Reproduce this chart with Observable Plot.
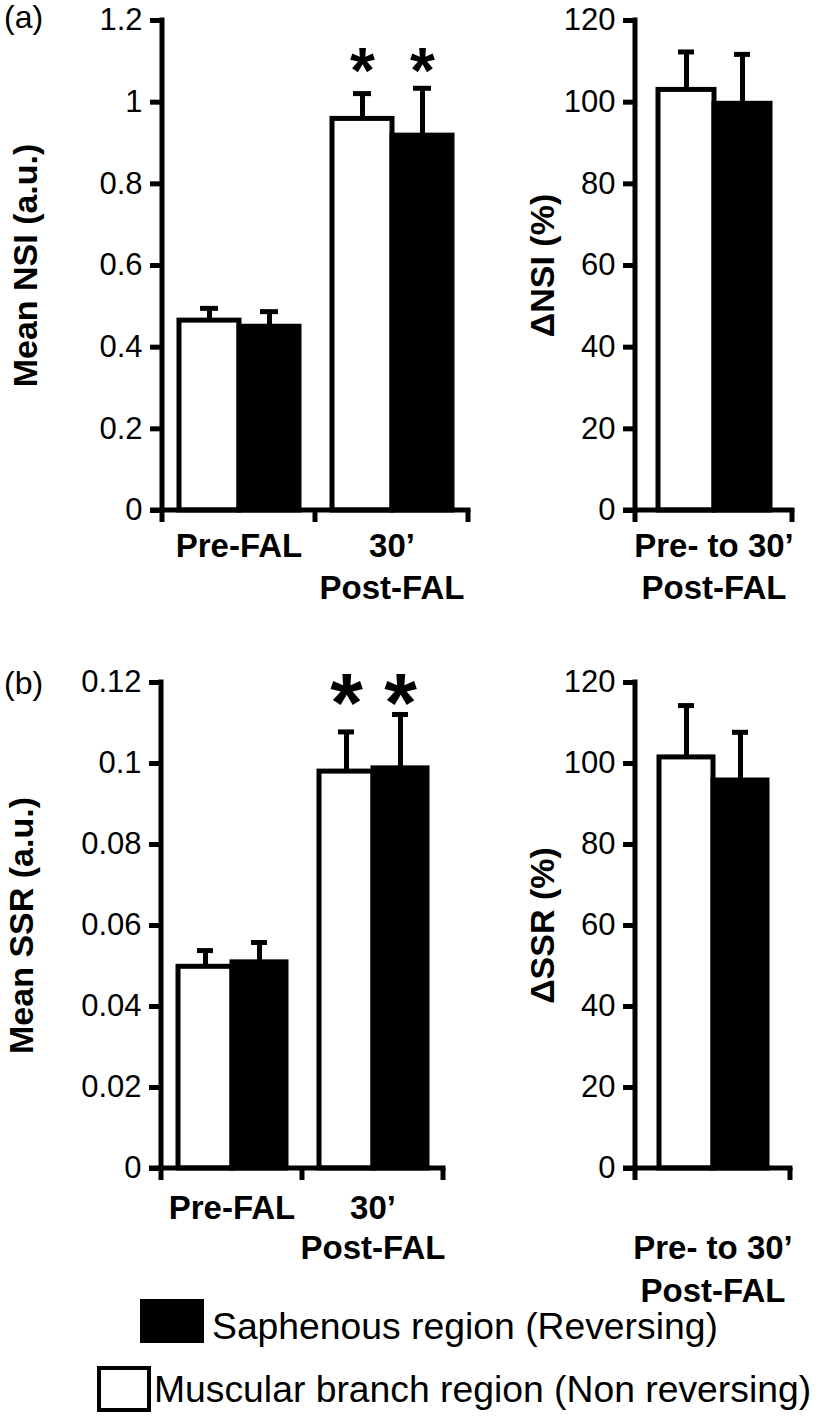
<!DOCTYPE html>
<html><head><meta charset="utf-8">
<script src="https://cdn.jsdelivr.net/npm/d3@7"></script>
<script src="https://cdn.jsdelivr.net/npm/@observablehq/plot@0.6"></script>
<style>
body{margin:0;background:#fff;}
#root{position:relative;width:819px;height:1417px;background:#fff;font-family:"Liberation Sans",Arial,sans-serif;overflow:hidden}
.panel{position:absolute}
.lg{position:absolute;display:flex;align-items:center;font-size:37.3px;color:#000;white-space:nowrap;line-height:1}
.sw{box-sizing:border-box;display:inline-block}
</style></head><body><div id="root"></div>
<script>
// ---- data ----
const seriesKeys = ["Muscular branch region (Non reversing)", "Saphenous region (Reversing)"];
const seriesFills = ["white", "black"];
const legendOrder = ["Saphenous region (Reversing)", "Muscular branch region (Non reversing)"];

const groupsTime = ["Pre-FAL", "30’\nPost-FAL"];
const groupsDelta = ["Pre- to 30’\nPost-FAL"];

// Panel (a) left: Mean NSI (a.u.)
const nsiMuscular = [0.465, 0.959];
const nsiMuscularErr = [0.030, 0.062];
const nsiSaphenous = [0.450, 0.918];
const nsiSaphenousErr = [0.037, 0.116];
const nsiSignificant = [false, true];

// Panel (a) right: ΔNSI (%)
const dNsiMuscular = [103.0];
const dNsiMuscularErr = [9.3];
const dNsiSaphenous = [99.6];
const dNsiSaphenousErr = [12.1];

// Panel (b) left: Mean SSR (a.u.)
const ssrMuscular = [0.0498, 0.0980];
const ssrMuscularErr = [0.0040, 0.0098];
const ssrSaphenous = [0.0509, 0.0988];
const ssrSaphenousErr = [0.0049, 0.0133];
const ssrSignificant = [false, true];

// Panel (b) right: ΔSSR (%)
const dSsrMuscular = [101.5];
const dSsrMuscularErr = [12.8];
const dSsrSaphenous = [95.8];
const dSsrSaphenousErr = [11.9];

const ticksNSI = [0, 0.2, 0.4, 0.6, 0.8, 1, 1.2];
const ticksSSR = [0, 0.02, 0.04, 0.06, 0.08, 0.1, 0.12];
const ticksPct = [0, 20, 40, 60, 80, 100, 120];

function rowsFrom(groups, mv, me, sv, se, sig) {
  const rows = [];
  groups.forEach((g, i) => {
    rows.push({group: g, series: seriesKeys[0], value: mv[i], err: me[i], sig: sig ? sig[i] : false});
    rows.push({group: g, series: seriesKeys[1], value: sv[i], err: se[i], sig: sig ? sig[i] : false});
  });
  return rows;
}

const root = document.getElementById("root");
const FONT = "'Liberation Sans', Arial, sans-serif";

function panel(cfg) {
  const {rows, groups, yDomain, yTicks, yTitle} = cfg;
  const chart = Plot.plot({
    width: cfg.width, height: cfg.height,
    marginLeft: cfg.mL, marginRight: cfg.mR, marginTop: cfg.mT, marginBottom: cfg.mB,
    style: {background: "transparent", fontFamily: FONT, overflow: "visible", color: "black"},
    fx: {domain: groups, padding: 0, axis: null, label: null},
    x: {domain: seriesKeys, paddingInner: 0, paddingOuter: cfg.po, axis: null, label: null},
    y: {domain: yDomain, label: null},
    color: {domain: seriesKeys, range: seriesFills},
    marks: [
      Plot.barY(rows, {fx: "group", x: "series", y: "value", fill: "series", stroke: "black", strokeWidth: 5}),
      Plot.ruleX(rows, {fx: "group", x: "series", y1: "value", y2: d => d.value + d.err, stroke: "black", strokeWidth: 5}),
      Plot.tickY(rows, {fx: "group", x: "series", y: d => d.value + d.err, stroke: "black", strokeWidth: 5, insetLeft: cfg.capInset, insetRight: cfg.capInset}),
      Plot.text(rows.filter(d => d.sig), {fx: "group", x: "series", text: () => "*", frameAnchor: "top", dy: cfg.starDy, fontSize: cfg.starSize, fontWeight: "bold", fill: "black"}),
      Plot.axisY({ticks: yTicks, tickFormat: d => String(+d.toFixed(3)), tickSize: 12, tickPadding: 8, fontSize: cfg.tickFont, strokeWidth: 5, label: null}),
      Plot.text(groups, {fx: d => d, text: d => d, frameAnchor: "bottom", lineAnchor: "top", dy: cfg.labelDy, fontSize: 33, fontWeight: "bold", lineHeight: cfg.lh, fill: "black"}),
      Plot.text([yTitle], {fx: () => groups[0], text: d => d, frameAnchor: "left", textAnchor: "middle", rotate: -90, dx: cfg.titleDx, fontSize: cfg.titleFont, fontWeight: "bold", fill: "black"})
    ]
  });
  // axis lines derived from the chart's own scales
  const fx = chart.scale("fx"), y = chart.scale("y");
  const y0 = y.apply(0), yTop = y.apply(yDomain[1]);
  const xs = groups.map(g => fx.apply(g));
  const xStart = xs[0], xEnd = xs[xs.length - 1] + fx.bandwidth;
  const g = d3.select(chart).append("g").attr("stroke", "black").attr("stroke-width", 5).attr("fill", "none");
  g.append("line").attr("x1", xStart).attr("x2", xStart).attr("y1", yTop - 2.5).attr("y2", y0 + 12);
  g.append("line").attr("x1", xStart - 12).attr("x2", xEnd + 2.5).attr("y1", y0).attr("y2", y0);
  const bounds = xs.slice(1).concat([xEnd]);
  for (const bx of bounds) g.append("line").attr("x1", bx).attr("x2", bx).attr("y1", y0).attr("y2", y0 + 12);
  chart.classList.add("panel");
  chart.style.left = cfg.left + "px";
  chart.style.top = cfg.top + "px";
  chart.style.maxWidth = "none";
  root.appendChild(chart);
}

panel({rows: rowsFrom(groupsTime, nsiMuscular, nsiMuscularErr, nsiSaphenous, nsiSaphenousErr, nsiSignificant),
  groups: groupsTime, yDomain: [0, 1.2], yTicks: ticksNSI, yTitle: "Mean NSI (a.u.)",
  left: 0, top: 0, width: 480, height: 640, mL: 162, mR: 12, mT: 20, mB: 130,
  po: 0.275, capInset: 21, titleDx: -136, titleFont: 34, starSize: 64, starDy: 27, labelDy: 16, lh: 1.28, tickFont: 31});

panel({rows: rowsFrom(groupsDelta, dNsiMuscular, dNsiMuscularErr, dNsiSaphenous, dNsiSaphenousErr, null),
  groups: groupsDelta, yDomain: [0, 120], yTicks: ticksPct, yTitle: "ΔNSI (%)",
  left: 480, top: 0, width: 339, height: 640, mL: 155, mR: 27, mT: 20, mB: 130,
  po: 0.39, capInset: 20, titleDx: -92, titleFont: 34, starSize: 64, starDy: 27, labelDy: 16, lh: 1.28, tickFont: 31});

panel({rows: rowsFrom(groupsTime, ssrMuscular, ssrMuscularErr, ssrSaphenous, ssrSaphenousErr, ssrSignificant),
  groups: groupsTime, yDomain: [0, 0.12], yTicks: ticksSSR, yTitle: "Mean SSR (a.u.)",
  left: 0, top: 640, width: 480, height: 660, mL: 161, mR: 37, mT: 42, mB: 132,
  po: 0.305, capInset: 19, titleDx: -139, titleFont: 34, starSize: 84, starDy: -10, labelDy: 22, lh: 1.21, tickFont: 31});

panel({rows: rowsFrom(groupsDelta, dSsrMuscular, dSsrMuscularErr, dSsrSaphenous, dSsrSaphenousErr, null),
  groups: groupsDelta, yDomain: [0, 120], yTicks: ticksPct, yTitle: "ΔSSR (%)",
  left: 480, top: 640, width: 339, height: 680, mL: 155, mR: 29, mT: 42, mB: 152,
  po: 0.435, capInset: 19, titleDx: -92, titleFont: 34, starSize: 84, starDy: -10, labelDy: 60, lh: 1.3, tickFont: 31});

// "(a)" and "(b)" panel letters
for (const [txt, top] of [["(a)", 1], ["(b)", 667]]) {
  const d = document.createElement("div");
  d.textContent = txt;
  d.style.cssText = `position:absolute;left:4px;top:${top}px;font-size:32px;line-height:1;`;
  root.appendChild(d);
}

// legend
const legendPos = [
  {left: 140, top: 1299, sw: [64, 44], shift: 6},
  {left: 97, top: 1366, sw: [54, 46], shift: 1}
];
legendOrder.forEach((name, i) => {
  const p = legendPos[i];
  const row = document.createElement("div");
  row.className = "lg";
  row.style.left = p.left + "px";
  row.style.top = p.top + "px";
  row.style.height = p.sw[1] + "px";
  const sw = document.createElement("span");
  sw.className = "sw";
  const fill = seriesFills[seriesKeys.indexOf(name)];
  sw.style.cssText = `width:${p.sw[0]}px;height:${p.sw[1]}px;background:${fill};border:4px solid black;margin-right:${i === 0 ? 8 : 3}px;`;
  const t = document.createElement("span");
  t.textContent = name;
  t.style.cssText = `position:relative;top:${p.shift}px;`;
  row.appendChild(sw);
  row.appendChild(t);
  root.appendChild(row);
});
</script></body></html>
